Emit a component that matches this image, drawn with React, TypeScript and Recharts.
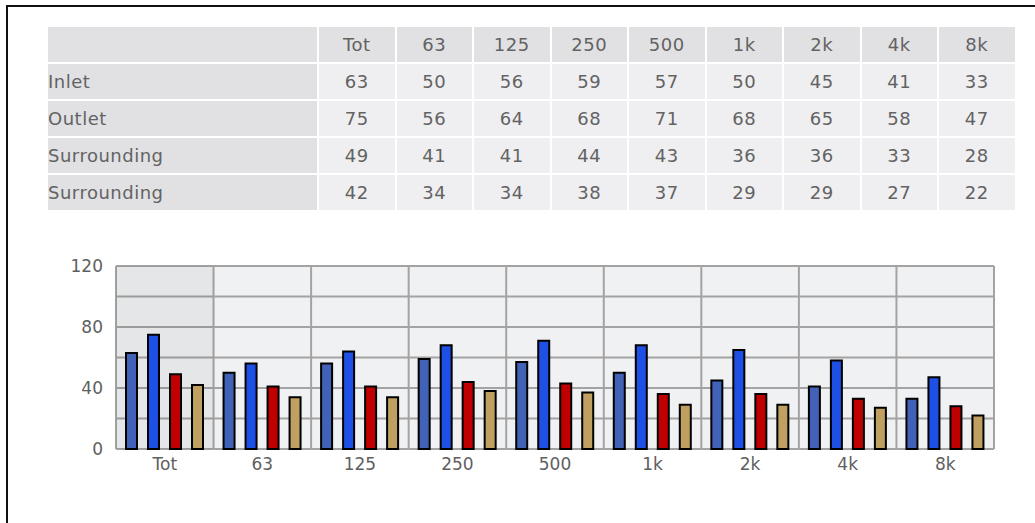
import { BarChart, Bar, XAxis, YAxis, CartesianGrid, ReferenceArea } from "recharts";

const categories = ["Tot", "63", "125", "250", "500", "1k", "2k", "4k", "8k"];
const rowNames = ["Inlet", "Outlet", "Surrounding", "Surrounding"];
const inlet = [63, 50, 56, 59, 57, 50, 45, 41, 33];
const outlet = [75, 56, 64, 68, 71, 68, 65, 58, 47];
const surrounding = [49, 41, 41, 44, 43, 36, 36, 33, 28];
const surrounding2 = [42, 34, 34, 38, 37, 29, 29, 27, 22];
const yTicks = [0, 20, 40, 60, 80, 100, 120];

const rows = [inlet, outlet, surrounding, surrounding2];
const chartData = categories.map((label, i) => ({
    label,
    inlet: inlet[i],
    outlet: outlet[i],
    surrounding: surrounding[i],
    surrounding2: surrounding2[i]
}));

const font = '"DejaVu Sans", Verdana, sans-serif';
const headBg = "#e1e1e3";
const cellBg = "#efeff1";
const textColor = "#636363";

function DataTable() {
    const cell = (bg: string, align: "left" | "center") => ({
        background: bg,
        display: "flex",
        alignItems: "center",
        justifyContent: align === "left" ? "flex-start" : "center",
        color: textColor,
        fontSize: 18,
        letterSpacing: 0.5,
        fontFamily: font,
        whiteSpace: "nowrap" as const
    });
    return (
        <div style={{
            position: "absolute", left: 48, top: 27,
            display: "grid",
            gridTemplateColumns: "269px repeat(9, 75.5px)",
            gridAutoRows: "35px",
            gap: 2
        }}>
            <div style={cell(headBg, "left")}></div>
            {categories.map(c => <div key={"h" + c} style={cell(headBg, "center")}>{c}</div>)}
            {rows.map((values, r) => [
                <div key={"n" + r} style={cell(headBg, "left")}>{rowNames[r]}</div>,
                ...values.map((v, i) => <div key={r + "-" + i} style={cell(cellBg, "center")}>{v}</div>)
            ])}
        </div>
    );
}

function App() {
    return (
        <div style={{ position: "absolute", left: 0, top: 0, width: 1035, height: 523, overflow: "hidden", background: "#fff" }}>
            <div style={{ position: "absolute", left: 6, top: 5, width: 1100, height: 600, borderLeft: "2px solid #111", borderTop: "2px solid #111" }} />
            <DataTable />
            <div style={{ position: "absolute", left: 0, top: 240 }}>
                <BarChart
                    width={1035}
                    height={283}
                    data={chartData}
                    margin={{ top: 26, right: 41, bottom: 44, left: 0 }}
                    barSize={11}
                    barGap={11}
                >
                    <CartesianGrid
                        stroke="#a3a3a3"
                        strokeWidth={2}
                        fill="#f0f1f3"
                        fillOpacity={1}
                        verticalCoordinatesGenerator={({ offset }: any) =>
                            categories.concat([""]).map((_, i) => offset.left + (i * offset.width) / categories.length)
                        }
                    />
                    <ReferenceArea x1="Tot" x2="Tot" fill="#000" fillOpacity={0.045} stroke="none" />
                    <XAxis
                        dataKey="label"
                        axisLine={false}
                        tickLine={false}
                        tickSize={0}
                        tickMargin={9}
                        interval={0}
                        height={30}
                        tick={{ fill: "#606060", fontSize: 17, fontFamily: font }}
                    />
                    <YAxis
                        domain={[0, 120]}
                        ticks={yTicks}
                        interval={0}
                        width={116}
                        axisLine={false}
                        tickLine={false}
                        tickSize={0}
                        tickMargin={13}
                        tickFormatter={(v: number) => (v % 40 === 0 ? String(v) : "")}
                        tick={{ fill: "#606060", fontSize: 17, fontFamily: font }}
                    />
                    <Bar dataKey="inlet" fill="#4262b8" stroke="#000" strokeWidth={2} isAnimationActive={false} />
                    <Bar dataKey="outlet" fill="#1e50e6" stroke="#000" strokeWidth={2} isAnimationActive={false} />
                    <Bar dataKey="surrounding" fill="#c00000" stroke="#000" strokeWidth={2} isAnimationActive={false} />
                    <Bar dataKey="surrounding2" fill="#c0a060" stroke="#000" strokeWidth={2} isAnimationActive={false} />
                </BarChart>
            </div>
        </div>
    );
}

export default App
